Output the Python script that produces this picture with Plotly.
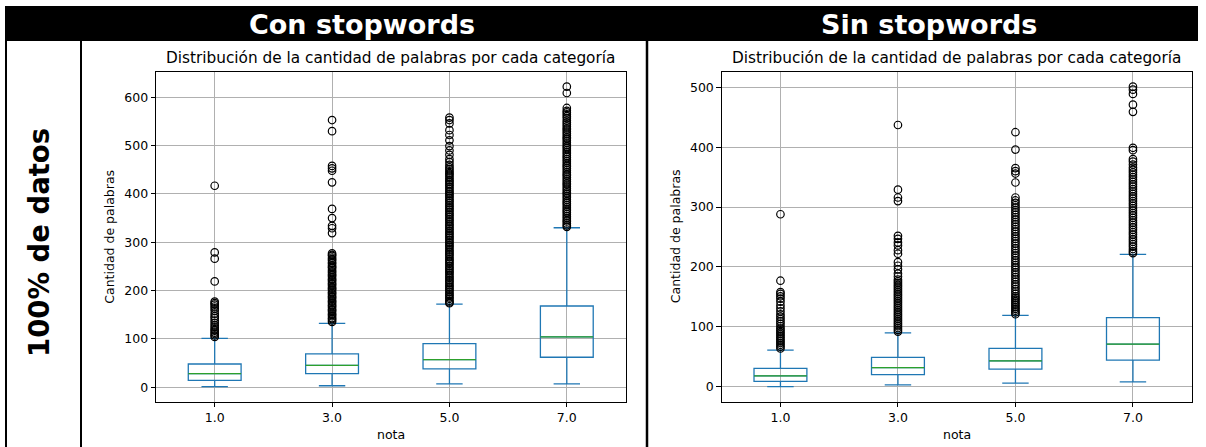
import plotly.graph_objects as go

W, H = 1206, 447
FONT = "DejaVu Sans"

# ---- data -------------------------------------------------------------
notas = ["1.0", "3.0", "5.0", "7.0"]

# "Con stopwords" box statistics (words per review)
con_lo = [1, 3, 7, 7]
con_q1 = [14, 28, 38, 62]
con_med = [28, 45, 57, 104]
con_q3 = [48, 69, 90, 168]
con_hi = [101, 132, 172, 330]

con_out_1 = [417, 279, 266, 219, 177, 174, 171, 167, 163, 158, 152, 147, 143, 138,
             133, 128, 124, 120, 117, 113, 110, 107, 104]
con_out_3 = [553, 530, 458, 453, 448, 424, 369, 350, 334, 329, 319, 277, 274, 272,
             268, 265, 262, 258, 256, 252, 249, 247, 243, 240, 237, 233, 231, 228,
             224, 222, 219, 215, 213, 210, 206, 204, 201, 197, 195, 192, 188, 186,
             183, 179, 177, 174, 170, 168, 165, 161, 159, 156, 152, 150, 147, 143,
             141, 138, 135]
con_out_5 = [558, 553, 546, 532, 522, 511, 499, 490, 481, 472, 466, 460, 455, 451,
             447, 443, 440, 436, 432, 428, 425, 421, 418, 414, 410, 406, 403, 399,
             396, 392, 388, 385, 381, 377, 374, 370, 367, 363, 359, 356, 352, 348,
             345, 341, 337, 334, 330, 327, 323, 319, 316, 312, 309, 305, 301, 298,
             294, 291, 287, 283, 280, 276, 273, 269, 265, 262, 258, 255, 251, 247,
             244, 240, 237, 233, 229, 226, 222, 219, 215, 211, 208, 204, 201, 197,
             193, 190, 186, 183, 179, 176, 174]
con_out_7 = [622, 609, 578, 572, 569, 565, 561, 557, 552, 548, 544, 540, 536, 533,
             529, 525, 521, 517, 514, 510, 506, 502, 498, 495, 491, 487, 483, 479,
             476, 472, 468, 464, 460, 457, 453, 449, 445, 441, 438, 434, 430, 426,
             422, 419, 415, 411, 407, 403, 400, 396, 392, 388, 384, 381, 377, 373,
             369, 365, 362, 358, 354, 350, 346, 343, 339, 335, 332]

# "Sin stopwords" box statistics
sin_lo = [0, 3, 6, 8]
sin_q1 = [9, 20, 29.5, 44.5]
sin_med = [18, 32, 43, 71]
sin_q3 = [30.5, 49, 64, 115.5]
sin_hi = [61, 90, 119, 221]

sin_out_1 = [288, 177, 158, 155, 151, 147, 142, 136, 131, 126, 121, 117, 113, 109,
             105, 101, 97, 94, 91, 88, 85, 82, 79, 76, 73, 70, 67, 64]
sin_out_3 = [437, 329, 316, 310, 252, 247, 241, 236, 228, 222, 208, 202, 196, 189,
             184, 179, 176, 173, 170, 167, 164, 161, 158, 155, 152, 149, 146, 143,
             140, 137, 134, 131, 128, 125, 122, 119, 116, 113, 110, 107, 104, 101,
             98, 95, 92]
sin_out_5 = [425, 396, 365, 360, 356, 341, 316, 311, 307, 303, 299, 295, 291, 287,
             283, 279, 275, 271, 267, 263, 259, 255, 251, 247, 243, 239, 235, 231,
             227, 223, 219, 215, 211, 207, 203, 199, 195, 191, 187, 183, 179, 175,
             171, 167, 163, 159, 155, 151, 148, 145, 142, 139, 136, 133, 130, 127,
             124, 121]
sin_out_7 = [501, 496, 489, 471, 459, 399, 395, 380, 376, 371, 366, 362, 358, 354,
             350, 346, 342, 338, 334, 330, 326, 322, 318, 314, 310, 306, 302, 298,
             294, 290, 286, 282, 278, 274, 270, 266, 262, 258, 254, 250, 246, 242,
             238, 234, 230, 226, 223]

panels = [
    dict(lo=con_lo, q1=con_q1, med=con_med, q3=con_q3, hi=con_hi,
         out=[con_out_1, con_out_3, con_out_5, con_out_7],
         header="Con stopwords"),
    dict(lo=sin_lo, q1=sin_q1, med=sin_med, q3=sin_q3, hi=sin_hi,
         out=[sin_out_1, sin_out_3, sin_out_5, sin_out_7],
         header="Sin stopwords"),
]

TITLE = "Distribución de la cantidad de palabras por cada categoría"
YLABEL = "Cantidad de palabras"
XLABEL = "nota"
ROWLABEL = "100% de datos"

# ---- layout geometry (pixels) -----------------------------------------
def px_x(x):
    return x / W


def px_y(y):
    return 1 - y / H


axes_px = [(156, 625.5), (721.7, 1191.7)]
axes_top, axes_bottom = 71.7, 401.7
header_cx = [362, 929]
ylabel_cx = [110, 675.5]

BOX_W = 0.45
BLUE, GREEN = "#1f77b4", "#2ca02c"
GRID = "#b0b0b0"

fig = go.Figure()
annotations = []
shapes = []

positions = list(range(1, len(notas) + 1))

for i, p in enumerate(panels):
    xa = "x" if i == 0 else f"x{i + 1}"
    ya = "y" if i == 0 else f"y{i + 1}"

    fig.add_trace(go.Box(
        x=positions, q1=p["q1"], median=p["med"], q3=p["q3"],
        lowerfence=p["lo"], upperfence=p["hi"],
        width=BOX_W, whiskerwidth=0.5, boxpoints=False,
        line=dict(color=BLUE, width=1.3), fillcolor="rgba(0,0,0,0)",
        xaxis=xa, yaxis=ya, showlegend=False, hoverinfo="skip",
    ))

    # green median segments across each box
    mx, my = [], []
    for pos, m in zip(positions, p["med"]):
        mx += [pos - BOX_W / 2, pos + BOX_W / 2, None]
        my += [m, m, None]
    fig.add_trace(go.Scatter(
        x=mx, y=my, mode="lines", line=dict(color=GREEN, width=1.3),
        xaxis=xa, yaxis=ya, showlegend=False, hoverinfo="skip",
    ))

    # outlier circles
    ox, oy = [], []
    for pos, vals in zip(positions, p["out"]):
        ox += [pos] * len(vals)
        oy += vals
    fig.add_trace(go.Scatter(
        x=ox, y=oy, mode="markers",
        marker=dict(symbol="circle-open", size=7.5, color="black",
                    line=dict(width=1.2, color="black")),
        xaxis=xa, yaxis=ya, showlegend=False, hoverinfo="skip",
    ))

    # y range with 5% padding on each side of the data extent
    all_vals = p["lo"] + p["hi"] + [v for lst in p["out"] for v in lst]
    vmin, vmax = min(all_vals), max(all_vals)
    pad = 0.05 * (vmax - vmin)

    x0, x1 = axes_px[i]
    axis_common = dict(
        showgrid=True, gridcolor=GRID, gridwidth=1,
        showline=True, linecolor="black", linewidth=1, mirror=True,
        ticks="outside", ticklen=4.4, tickwidth=1, tickcolor="black",
        tickfont=dict(family=FONT, size=12.5, color="black"),
        zeroline=False,
    )
    fig.update_layout({
        f"xaxis{'' if i == 0 else i + 1}": dict(
            domain=[px_x(x0), px_x(x1)], range=[0.5, len(notas) + 0.5],
            tickvals=positions, ticktext=notas,
            anchor=ya, **axis_common),
        f"yaxis{'' if i == 0 else i + 1}": dict(
            domain=[px_y(axes_bottom), px_y(axes_top)],
            range=[vmin - pad, vmax + pad], dtick=100,
            anchor=xa, **axis_common),
    })

    cx = (x0 + x1) / 2
    annotations += [
        dict(text=TITLE, x=px_x(cx), y=px_y(axes_top), xref="paper", yref="paper",
             xanchor="center", yanchor="bottom", yshift=3, showarrow=False,
             font=dict(family=FONT, size=15.3, color="black")),
        dict(text=XLABEL, x=px_x(cx), y=px_y(434), xref="paper", yref="paper",
             xanchor="center", yanchor="middle", showarrow=False,
             font=dict(family=FONT, size=12.5, color="black")),
        dict(text=YLABEL, x=px_x(ylabel_cx[i]), y=px_y((axes_top + axes_bottom) / 2),
             xref="paper", yref="paper", xanchor="center", yanchor="middle",
             textangle=-90, showarrow=False,
             font=dict(family=FONT, size=12.5, color="black")),
        dict(text=f"<b>{p['header']}</b>", x=px_x(header_cx[i]), y=px_y(24),
             xref="paper", yref="paper", xanchor="center", yanchor="middle",
             showarrow=False, font=dict(family=FONT, size=27, color="white")),
    ]

# row label on the left
annotations.append(dict(
    text=f"<b>{ROWLABEL}</b>", x=px_x(39), y=px_y(243), xref="paper", yref="paper",
    xanchor="center", yanchor="middle", textangle=-90, showarrow=False,
    font=dict(family=FONT, size=27.5, color="black")))

# table frame: black header band and vertical cell borders
shapes.append(dict(type="rect", xref="paper", yref="paper",
                   x0=px_x(5), x1=px_x(1198), y0=px_y(41), y1=px_y(6),
                   fillcolor="black", line=dict(width=0), layer="above"))
for xv, lw in [(6, 2), (81, 2), (647, 2.5)]:
    shapes.append(dict(type="line", xref="paper", yref="paper",
                       x0=px_x(xv), x1=px_x(xv), y0=px_y(H), y1=px_y(41),
                       line=dict(color="black", width=lw), layer="above"))

fig.update_layout(
    width=W, height=H, autosize=False,
    margin=dict(l=0, r=0, t=0, b=0, pad=0),
    paper_bgcolor="white", plot_bgcolor="white",
    annotations=annotations, shapes=shapes,
    font=dict(family=FONT, color="black"),
)

fig.write_html("out.html")
